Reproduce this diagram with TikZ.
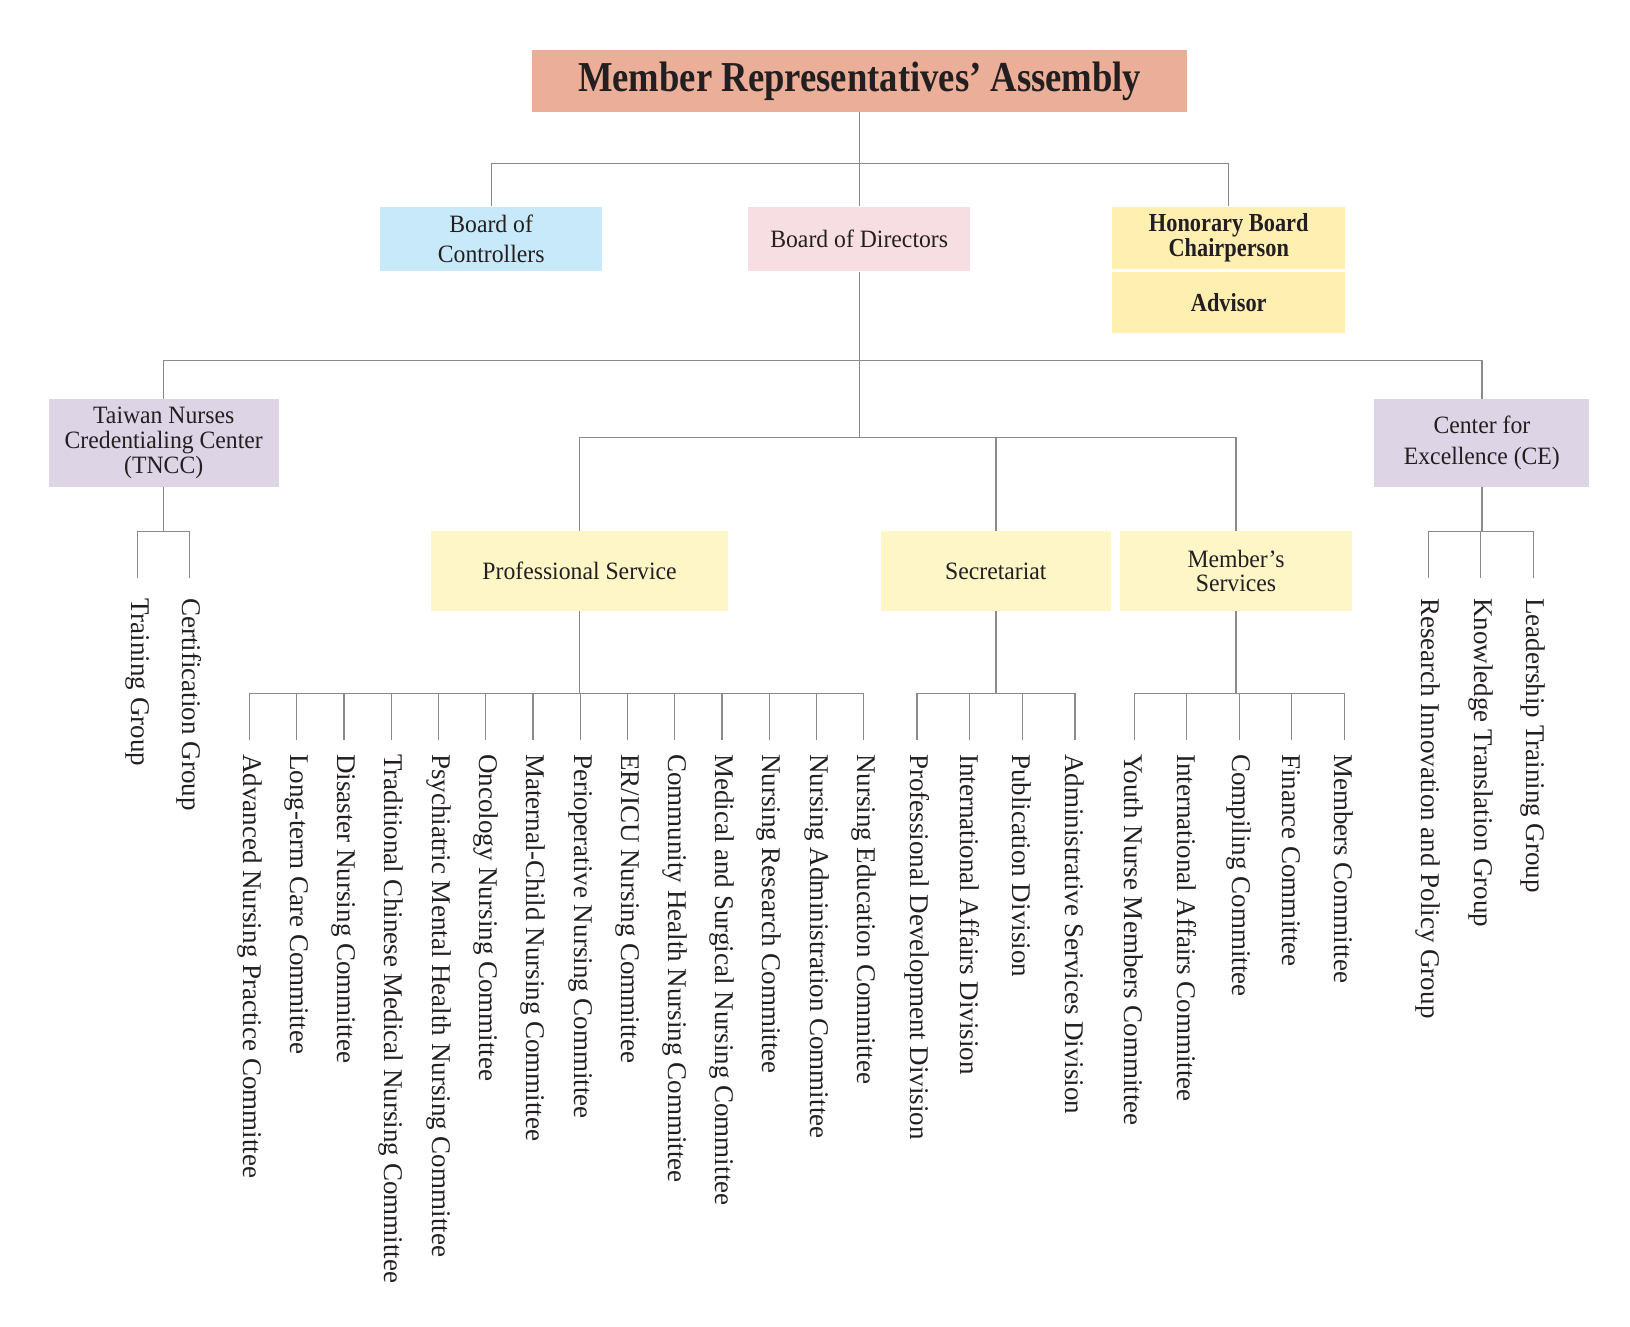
\documentclass[tikz,border=0pt]{standalone}
\usepackage{fontspec}
\setmainfont{Liberation Serif}
\newfontfamily\boxfont[FakeStretch=0.95]{Liberation Serif}
\newfontfamily\headfont[FakeStretch=0.86]{Liberation Serif}

\definecolor{ink}{HTML}{231F20}
\definecolor{linegray}{HTML}{8A8A8A}
\definecolor{salmon}{HTML}{EBAE98}
\definecolor{skyblue}{HTML}{C8E9FA}
\definecolor{blush}{HTML}{F7DEE2}
\definecolor{butter}{HTML}{FFF0B2}
\definecolor{cream}{HTML}{FFF6C8}
\definecolor{lilac}{HTML}{DDD4E6}

\tikzset{
  link/.style={draw=linegray, line width=0.6pt},
  unit/.style={inner sep=0pt, align=center, text=ink, font=\boxfont\fontsize{12}{12}\selectfont},
  leaf/.style={inner sep=0pt, rotate=-90, anchor=west, text=ink, font=\fontsize{13}{13}\selectfont},
}

\begin{document}
\begin{tikzpicture}[x=0.5pt,y=-0.5pt]
\useasboundingbox (0,0) rectangle (1568,1276.5);

% Assembly
\node[unit, fill=salmon, minimum width=315pt, minimum height=29.75pt,
      font=\headfont\bfseries\fontsize{20.5}{20.5}\selectfont] (rep) at (827,77.75) {Member Representatives’ Assembly};

% Boards
\node[unit, fill=skyblue, minimum width=106.5pt, minimum height=31pt] (ctrl) at (472.5,230) {Board of\\[2.5pt]Controllers};
\node[unit, fill=blush, minimum width=106.5pt, minimum height=31pt] (dir) at (826.5,230) {Board of Directors};
\node[unit, fill=butter, minimum width=112pt, minimum height=30pt,
      font=\headfont\bfseries\fontsize{12.5}{12}\selectfont] (hon) at (1182,229) {Honorary Board\\Chairperson};
\node[unit, fill=butter, minimum width=112pt, minimum height=29pt,
      font=\headfont\bfseries\fontsize{12.5}{12}\selectfont] (adv) at (1182,291) {Advisor};

% Centers
\node[unit, fill=lilac, minimum width=110.5pt, minimum height=42pt] (tncc) at (157.5,426) {Taiwan Nurses\\Credentialing Center\\(TNCC)};
\node[unit, fill=lilac, minimum width=103.5pt, minimum height=42pt] (ce) at (1425.5,426) {Center for\\[2.5pt]Excellence (CE)};

% Departments
\node[unit, fill=cream, minimum width=142.5pt, minimum height=38.25pt] (ps) at (557.5,549.25) {Professional Service};
\node[unit, fill=cream, minimum width=111pt, minimum height=38.25pt] (sec) at (958,549.25) {Secretariat};
\node[unit, fill=cream, minimum width=112pt, minimum height=38.25pt] (ms) at (1189,549.25) {Member’s\\Services};

% Upper connectors
\coordinate (bus1) at (827,157);
\coordinate (bus2) at (826.5,347);
\coordinate (bus3) at (826.5,421);
\draw[link] (rep.south) -- (bus1);
\foreach \n in {ctrl,dir,hon}
  \draw[link] (bus1) -| (\n.north);
\draw[link] (dir.south) -- (bus3);
\foreach \n in {tncc,ce}
  \draw[link] (bus2) -| (\n.north);
\foreach \n in {ps,sec,ms}
  \draw[link] (bus3) -| (\n.north);

% TNCC groups
\coordinate (tnccbus) at (tncc.south |- 0,511);
\draw[link] (tncc.south) -- (tnccbus);
\foreach \name [count=\i] in {Training Group, Certification Group}{
  \node[leaf] (tn\i) at ({132+50*(\i-1)},575) {\name};
  \draw[link, shorten >=9.5pt] (tnccbus) -| (tn\i.west);
}

% CE groups
\coordinate (cebus) at (ce.south |- 0,511);
\draw[link] (ce.south) -- (cebus);
\foreach \name [count=\i] in {Research Innovation and Policy Group, Knowledge Translation Group, Leadership Training Group}{
  \node[leaf] (cg\i) at ({1374+50.5*(\i-1)},575) {\name};
  \draw[link, shorten >=9.5pt] (cebus) -| (cg\i.west);
}

% Professional Service committees
\coordinate (psbus) at (ps.south |- 0,667);
\draw[link] (ps.south) -- (psbus);
\foreach \name [count=\i] in {Advanced Nursing Practice Committee, Long-term Care Committee,
    Disaster Nursing Committee, Traditional Chinese Medical Nursing Committee,
    Psychiatric Mental Health Nursing Committee, Oncology Nursing Committee,
    Maternal-Child Nursing Committee, Perioperative Nursing Committee,
    ER/ICU Nursing Committee, Community Health Nursing Committee,
    Medical and Surgical Nursing Committee, Nursing Research Committee,
    Nursing Administration Committee, Nursing Education Committee}{
  \node[leaf] (pc\i) at ({240+45.45*(\i-1)},725) {\name};
  \draw[link, shorten >=6.5pt] (psbus) -| (pc\i.west);
}

% Secretariat divisions
\coordinate (secbus) at (sec.south |- 0,667);
\draw[link] (sec.south) -- (secbus);
\foreach \name [count=\i] in {Professional Development Division, International Affairs Division,
    Publication Division, Administrative Services Division}{
  \node[leaf] (sd\i) at ({882+50.67*(\i-1)},725) {\name};
  \draw[link, shorten >=6.5pt] (secbus) -| (sd\i.west);
}

% Member's Services committees
\coordinate (msbus) at (ms.south |- 0,667);
\draw[link] (ms.south) -- (msbus);
\foreach \name [count=\i] in {Youth Nurse Members Committee, International Affairs Committee,
    Compiling Committee, Finance Committee, Members Committee}{
  \node[leaf] (mc\i) at ({1091+50.5*(\i-1)},725) {\name};
  \draw[link, shorten >=6.5pt] (msbus) -| (mc\i.west);
}
\end{tikzpicture}
\end{document}
